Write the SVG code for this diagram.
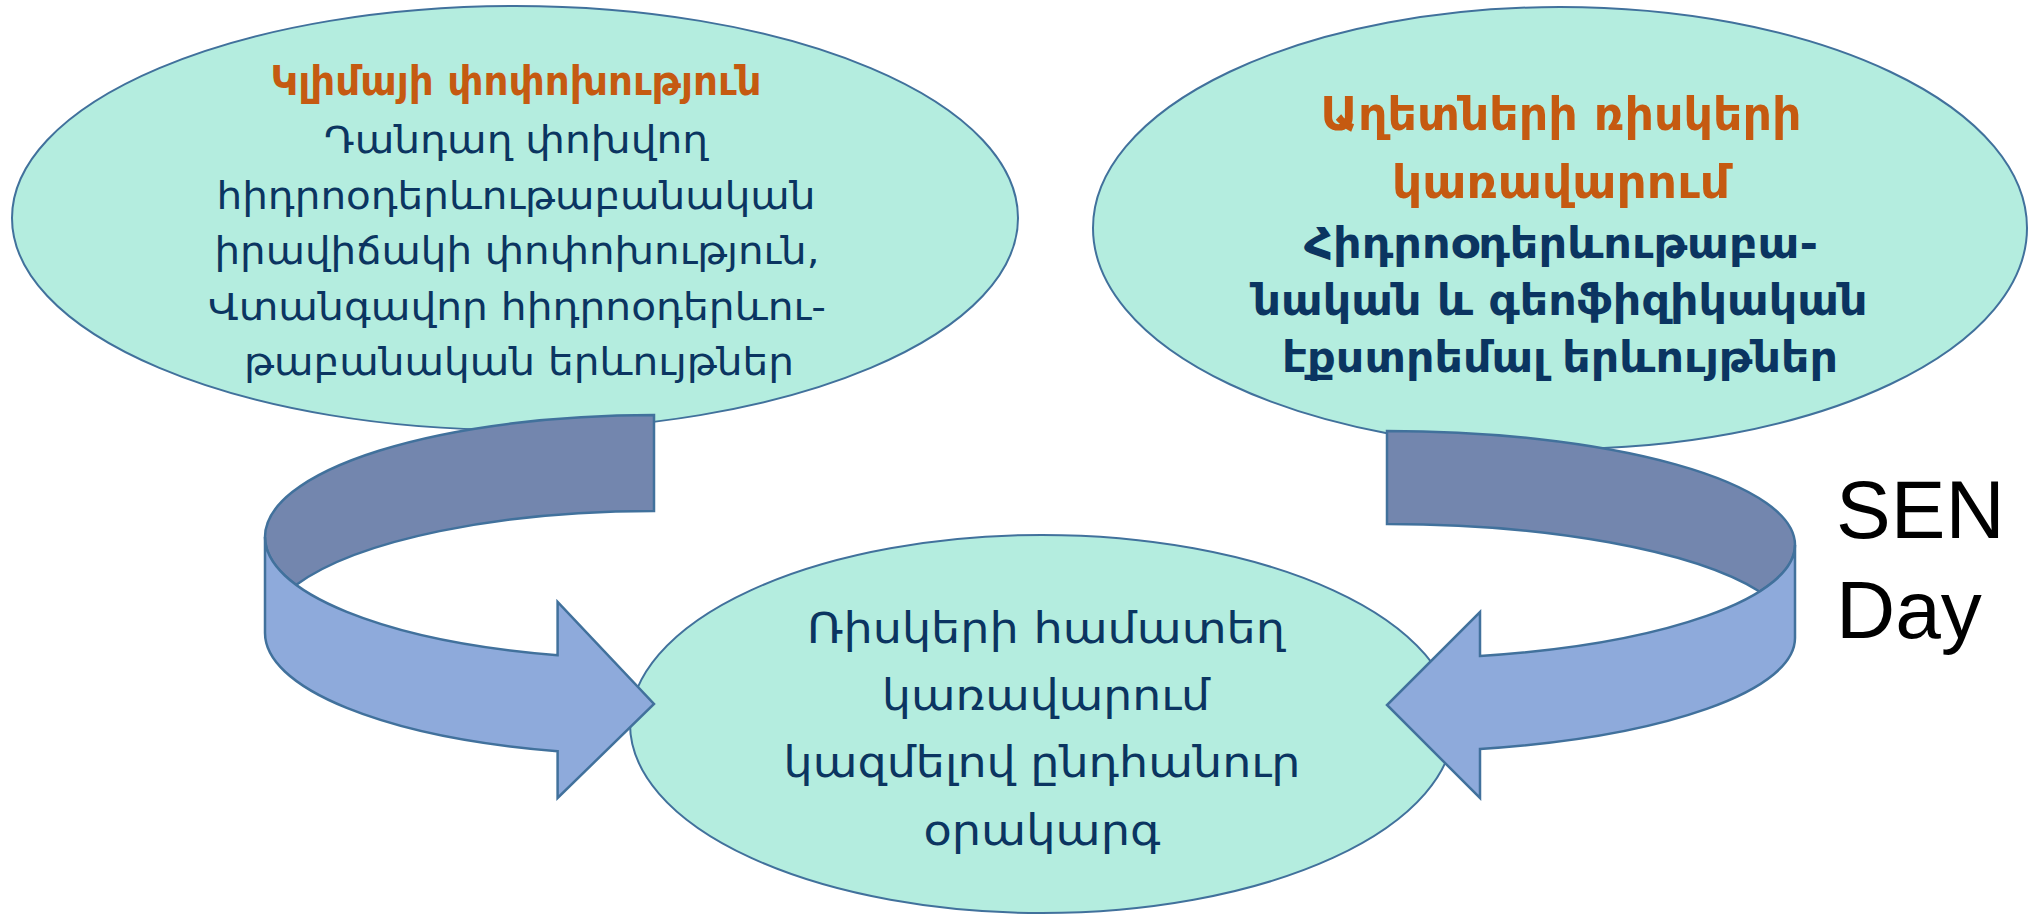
<svg xmlns="http://www.w3.org/2000/svg" width="2037" height="914" viewBox="0 0 2037 914">
<style>
.node{fill:#B4EDDF;stroke:#41719C;stroke-width:2}
.t{font-family:"DejaVu Sans Condensed","DejaVu Sans",sans-serif;text-anchor:middle;fill:#0B3561}
.o{fill:#C55A11}
.b{font-weight:bold}
.back{fill:#7386AE;stroke:#41719C;stroke-width:2.5;stroke-linejoin:miter}
.front{fill:#8EAADB;stroke:#41719C;stroke-width:2.5;stroke-linejoin:miter}
.lbl{font-family:"Liberation Sans",Arial,sans-serif;font-size:82px;fill:#000}
</style>
<rect width="2037" height="914" fill="#fff"/>
<g id="node-climate">
<ellipse class="node" cx="515" cy="218" rx="503" ry="212"/>
<text class="t o b" x="516" y="95" font-size="40" textLength="491" lengthAdjust="spacingAndGlyphs">Կլիմայի փոփոխություն</text>
<text class="t" x="516" y="153" font-size="37" textLength="384" lengthAdjust="spacingAndGlyphs">Դանդաղ փոխվող</text>
<text class="t" x="516" y="209" font-size="37" textLength="599" lengthAdjust="spacingAndGlyphs">հիդրոօդերևութաբանական</text>
<text class="t" x="517" y="264" font-size="37" textLength="605" lengthAdjust="spacingAndGlyphs">իրավիճակի փոփոխություն,</text>
<text class="t" x="517" y="320" font-size="37" textLength="618" lengthAdjust="spacingAndGlyphs">Վտանգավոր հիդրոօդերևու-</text>
<text class="t" x="519" y="375" font-size="37" textLength="550" lengthAdjust="spacingAndGlyphs">թաբանական երևույթներ</text>
</g>
<g id="node-disaster">
<ellipse class="node" cx="1560" cy="228" rx="467" ry="221"/>
<text class="t o b" x="1561" y="130" font-size="47" textLength="481" lengthAdjust="spacingAndGlyphs">Աղետների ռիսկերի</text>
<text class="t o b" x="1561" y="198" font-size="47" textLength="338" lengthAdjust="spacingAndGlyphs">կառավարում</text>
<text class="t b" x="1561" y="258" font-size="43" textLength="514" lengthAdjust="spacingAndGlyphs">Հիդրոօդերևութաբա-</text>
<text class="t b" x="1560" y="315" font-size="43" textLength="615" lengthAdjust="spacingAndGlyphs">նական և գեոֆիզիկական</text>
<text class="t b" x="1560" y="372" font-size="43" textLength="556" lengthAdjust="spacingAndGlyphs">էքստրեմալ երևույթներ</text>
</g>
<g id="node-joint">
<ellipse class="node" cx="1042" cy="724" rx="412" ry="189"/>
<text class="t" x="1046" y="643" font-size="42" textLength="478" lengthAdjust="spacingAndGlyphs">Ռիսկերի համատեղ</text>
<text class="t" x="1046" y="710" font-size="42" textLength="328" lengthAdjust="spacingAndGlyphs">կառավարում</text>
<text class="t" x="1042" y="777" font-size="42" textLength="517" lengthAdjust="spacingAndGlyphs">կազմելով ընդհանուր</text>
<text class="t" x="1042" y="845" font-size="42" textLength="237" lengthAdjust="spacingAndGlyphs">օրակարգ</text>
</g>
<g id="connectors">
<g id="arrow-left">
<path class="back" d="M654 415 A389 122 0 0 0 265 537 A389 122 0 0 0 296 585 A389 122 0 0 1 654 511 Z"/>
<path class="front" d="M265 537 L265 633 A389 122 0 0 0 557.6 751.2 L557.6 798 L654 704 L557.6 602 L557.6 655.2 A389 122 0 0 1 265 537 Z"/>
</g>
<g id="arrow-right">
<path class="back" d="M1387 431 A408 114 0 0 1 1795 545 A408 114 0 0 1 1759.5 591.5 A408 114 0 0 0 1387 524 Z"/>
<path class="front" d="M1795 545 L1795 638 A408 114 0 0 1 1480 749 L1480 798 L1387 705 L1480 612 L1480 656 A408 114 0 0 0 1795 545 Z"/>
</g>
</g>
<g id="label-sen-day">
<text class="lbl" x="1836" y="538">SEN</text>
<text class="lbl" x="1836" y="638">Day</text>
</g>
</svg>
